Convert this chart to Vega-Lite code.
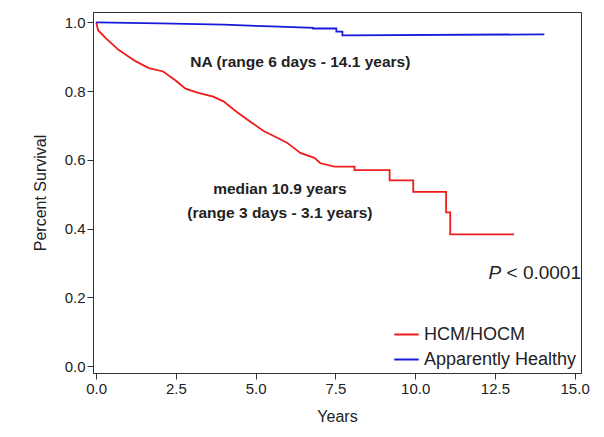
{
  "$schema": "https://vega.github.io/schema/vega-lite/v6.json",
  "width": 604,
  "height": 437,
  "autosize": {"type": "fit", "contains": "padding"},
  "padding": {"left": 32, "right": 16, "top": 12, "bottom": 13},
  "background": "white",
  "config": {
    "font": "Liberation Sans",
    "view": {"stroke": "#333", "strokeWidth": 1},
    "axis": {"grid": false, "labelFontSize": 15, "titleFontSize": 16, "titleFontWeight": "normal", "labelColor": "#222", "titleColor": "#222", "domainColor": "#333", "tickColor": "#333", "tickSize": 6}
  },
  "datasets": {
    "surv": [
      {"t": 0, "s": 1.0, "g": "HCM/HOCM"},
      {"t": 0.06, "s": 0.977, "g": "HCM/HOCM"},
      {"t": 0.3, "s": 0.954, "g": "HCM/HOCM"},
      {"t": 0.7, "s": 0.92, "g": "HCM/HOCM"},
      {"t": 1.23, "s": 0.887, "g": "HCM/HOCM"},
      {"t": 1.65, "s": 0.867, "g": "HCM/HOCM"},
      {"t": 2.1, "s": 0.857, "g": "HCM/HOCM"},
      {"t": 2.5, "s": 0.83, "g": "HCM/HOCM"},
      {"t": 2.8, "s": 0.807, "g": "HCM/HOCM"},
      {"t": 3.2, "s": 0.795, "g": "HCM/HOCM"},
      {"t": 3.67, "s": 0.784, "g": "HCM/HOCM"},
      {"t": 3.99, "s": 0.77, "g": "HCM/HOCM"},
      {"t": 4.4, "s": 0.74, "g": "HCM/HOCM"},
      {"t": 4.8, "s": 0.713, "g": "HCM/HOCM"},
      {"t": 5.25, "s": 0.684, "g": "HCM/HOCM"},
      {"t": 5.66, "s": 0.665, "g": "HCM/HOCM"},
      {"t": 5.98, "s": 0.65, "g": "HCM/HOCM"},
      {"t": 6.4, "s": 0.62, "g": "HCM/HOCM"},
      {"t": 6.84, "s": 0.606, "g": "HCM/HOCM"},
      {"t": 7.03, "s": 0.59, "g": "HCM/HOCM"},
      {"t": 7.47, "s": 0.58, "g": "HCM/HOCM"},
      {"t": 8.1, "s": 0.58, "g": "HCM/HOCM"},
      {"t": 8.1, "s": 0.57, "g": "HCM/HOCM"},
      {"t": 9.2, "s": 0.57, "g": "HCM/HOCM"},
      {"t": 9.2, "s": 0.54, "g": "HCM/HOCM"},
      {"t": 9.94, "s": 0.54, "g": "HCM/HOCM"},
      {"t": 9.94, "s": 0.507, "g": "HCM/HOCM"},
      {"t": 10.97, "s": 0.507, "g": "HCM/HOCM"},
      {"t": 10.97, "s": 0.447, "g": "HCM/HOCM"},
      {"t": 11.1, "s": 0.447, "g": "HCM/HOCM"},
      {"t": 11.1, "s": 0.383, "g": "HCM/HOCM"},
      {"t": 13.1, "s": 0.383, "g": "HCM/HOCM"},
      {"t": 0, "s": 1.0, "g": "Apparently Healthy"},
      {"t": 2.0, "s": 0.997, "g": "Apparently Healthy"},
      {"t": 4.0, "s": 0.993, "g": "Apparently Healthy"},
      {"t": 5.5, "s": 0.988, "g": "Apparently Healthy"},
      {"t": 6.8, "s": 0.984, "g": "Apparently Healthy"},
      {"t": 6.8, "s": 0.982, "g": "Apparently Healthy"},
      {"t": 7.53, "s": 0.982, "g": "Apparently Healthy"},
      {"t": 7.53, "s": 0.973, "g": "Apparently Healthy"},
      {"t": 7.72, "s": 0.973, "g": "Apparently Healthy"},
      {"t": 7.72, "s": 0.962, "g": "Apparently Healthy"},
      {"t": 14.05, "s": 0.965, "g": "Apparently Healthy"}
    ],
    "notes": [
      {"t": 6.4, "s": 0.885, "label": "NA (range 6 days - 14.1 years)"},
      {"t": 5.76, "s": 0.515, "label": "median 10.9 years"},
      {"t": 5.76, "s": 0.445, "label": "(range 3 days - 3.1 years)"}
    ],
    "p": [{"t": 12.3, "s": 0.27}]
  },
  "layer": [
    {
      "data": {"name": "surv"},
      "mark": {"type": "line", "strokeWidth": 1.8},
      "encoding": {
        "x": {"field": "t", "type": "quantitative", "title": "Years", "scale": {"domain": [-0.1, 15.2], "nice": false}, "axis": {"values": [0, 2.5, 5, 7.5, 10, 12.5, 15], "format": ".1f", "titlePadding": 12}},
        "y": {"field": "s", "type": "quantitative", "title": "Percent Survival", "scale": {"domain": [-0.02, 1.03], "nice": false}, "axis": {"values": [0, 0.2, 0.4, 0.6, 0.8, 1.0], "format": ".1f", "titlePadding": 16}},
        "order": {"field": "t", "type": "quantitative"},
        "color": {"field": "g", "type": "nominal", "sort": ["HCM/HOCM", "Apparently Healthy"], "scale": {"domain": ["HCM/HOCM", "Apparently Healthy"], "range": ["#ee1c1c", "#1a1adb"]},
          "legend": {"title": null, "orient": "bottom-right", "symbolType": "stroke", "symbolSize": 600, "symbolStrokeWidth": 2, "labelFontSize": 18, "labelColor": "#222", "rowPadding": 2, "offset": 4, "fillColor": "white"}}
      }
    },
    {
      "data": {"name": "notes"},
      "mark": {"type": "text", "fontSize": 15.5, "fontWeight": "bold", "color": "#222"},
      "encoding": {
        "x": {"field": "t", "type": "quantitative"},
        "y": {"field": "s", "type": "quantitative"},
        "text": {"field": "label"}
      }
    },
    {
      "data": {"name": "p"},
      "mark": {"type": "text", "text": "P", "fontStyle": "italic", "fontSize": 19, "align": "left", "color": "#222"},
      "encoding": {
        "x": {"field": "t", "type": "quantitative"},
        "y": {"field": "s", "type": "quantitative"}
      }
    },
    {
      "data": {"name": "p"},
      "mark": {"type": "text", "text": "< 0.0001", "fontSize": 19, "align": "left", "dx": 18, "color": "#222"},
      "encoding": {
        "x": {"field": "t", "type": "quantitative"},
        "y": {"field": "s", "type": "quantitative"}
      }
    }
  ]
}
